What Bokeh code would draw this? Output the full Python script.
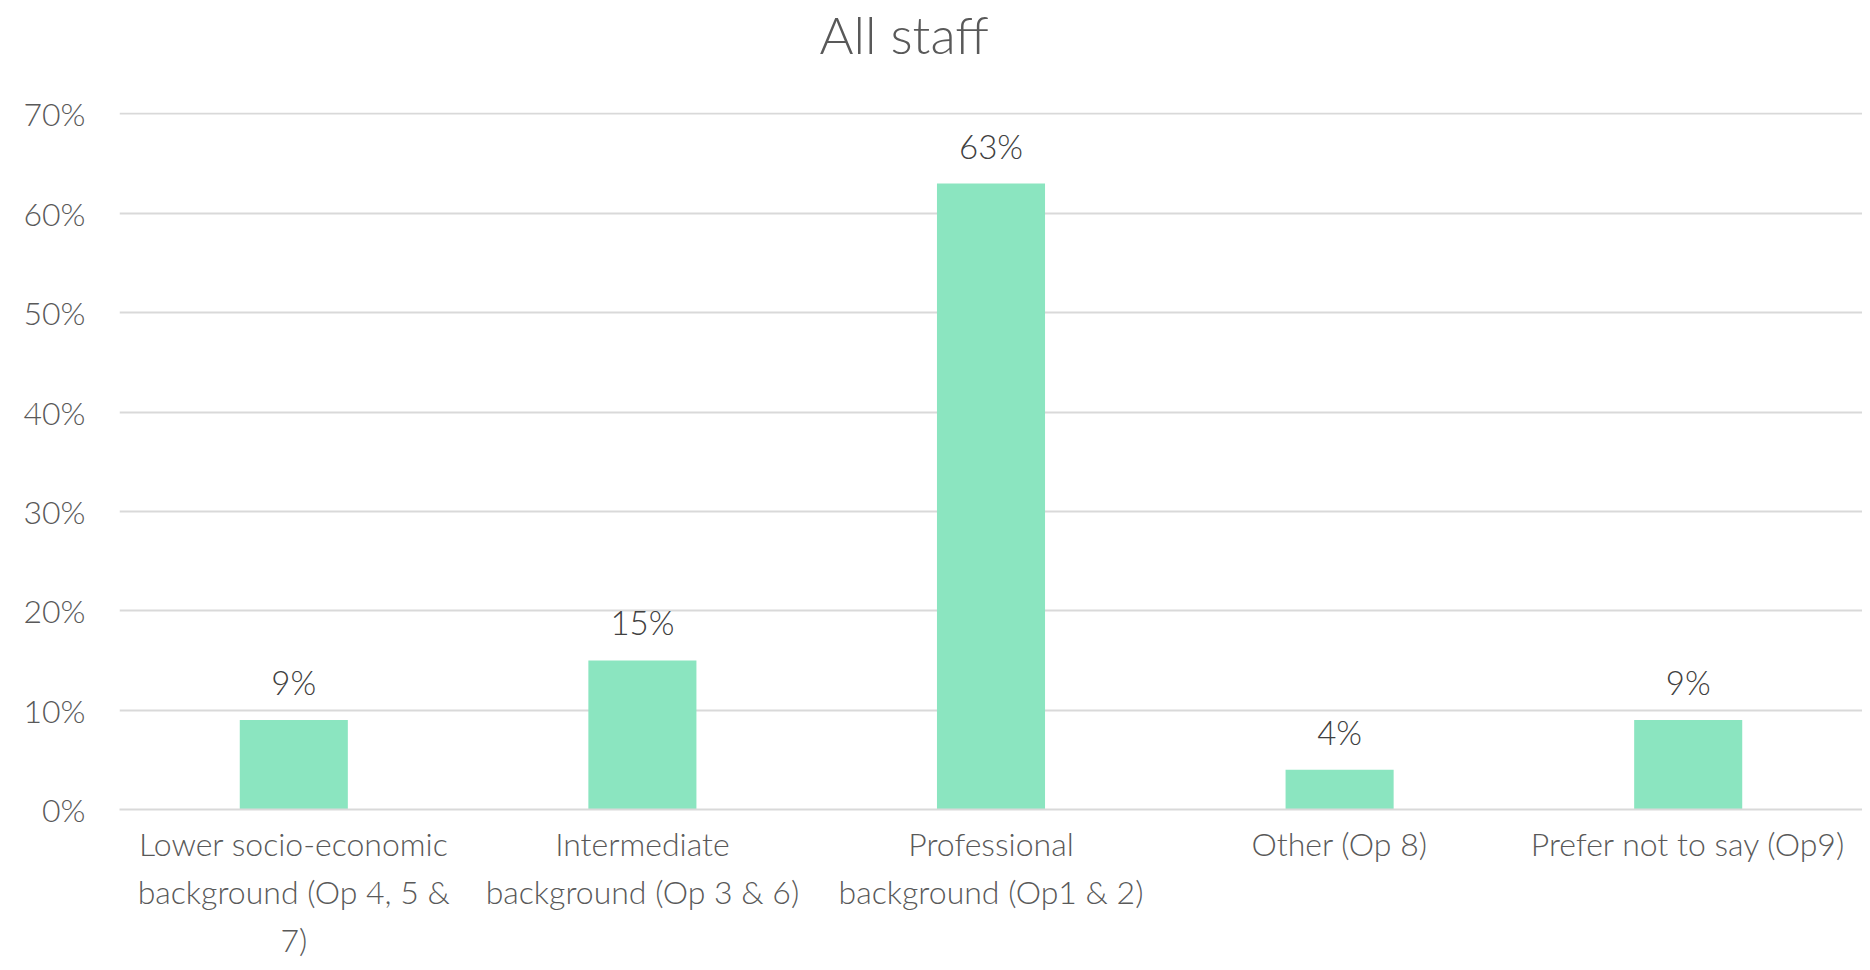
from bokeh.plotting import figure
from bokeh.models import FactorRange, Range1d, FixedTicker, ColumnDataSource, Title
from bokeh.core.properties import value
from bokeh.embed import file_html
from bokeh.resources import INLINE

categories = [
    "Lower socio-economic\nbackground (Op 4, 5 &\n7)",
    "Intermediate\nbackground (Op 3 & 6)",
    "Professional\nbackground (Op1 & 2)",
    "Other (Op 8)",
    "Prefer not to say (Op9)",
]
values = [9, 15, 63, 4, 9]
labels = ["9%", "15%", "63%", "4%", "9%"]
y_ticks = [0, 10, 20, 30, 40, 50, 60, 70]
y_tick_labels = ["0%", "10%", "20%", "30%", "40%", "50%", "60%", "70%"]
title_text = "All staff"

FONT = "Lato Light, Lato"
TEXT = "#595959"

src = ColumnDataSource(dict(cat=categories, val=values, lab=labels))

p = figure(
    x_range=FactorRange(*categories, range_padding=0),
    y_range=Range1d(0, 70.15),
    width=1862, height=962,
    output_backend="svg", toolbar_location=None,
    min_border_left=119, min_border_right=0,
    min_border_top=0, min_border_bottom=140,
    title=None,
)
p.outline_line_color = None
p.background_fill_color = "white"
p.border_fill_color = "white"

spacer = Title(text=" ", text_font_size="41px")
main_title = Title(text=title_text, align="left", offset=700, text_font=FONT,
                   text_font_style="normal", text_font_size="52px", text_color=TEXT)
if "standoff" in main_title.properties():
    main_title.standoff = 0
    spacer.standoff = 0
else:
    spacer.text_font_size = "25px"

# spacer (closest to the frame), then the real title further out
p.add_layout(spacer, "above")
p.add_layout(main_title, "above")

p.vbar(x="cat", top="val", width=0.31, source=src, fill_color="#8BE5C0", line_color=None)
p.text(x="cat", y="val", text="lab", source=src, text_align="center", text_baseline="bottom",
       y_offset=-18, text_font=value(FONT), text_font_size="33px", text_color="#404040")

p.yaxis.ticker = FixedTicker(ticks=y_ticks)
p.yaxis.major_label_overrides = {t: l for t, l in zip(y_ticks, y_tick_labels)}
p.yaxis.axis_line_color = None
p.yaxis.major_tick_line_color = None
p.yaxis.minor_tick_line_color = None
p.yaxis.major_label_standoff = 28
p.yaxis.major_label_text_font = FONT
p.yaxis.major_label_text_font_size = "32px"
p.yaxis.major_label_text_color = TEXT

p.xaxis.axis_line_color = "#D9D9D9"
p.xaxis.axis_line_width = 2
p.xaxis.major_tick_line_color = None
p.xaxis.minor_tick_line_color = None
p.xaxis.major_label_standoff = 8
p.xaxis.major_label_text_font = FONT
p.xaxis.major_label_text_font_size = "32px"
p.xaxis.major_label_text_color = TEXT
p.xaxis.major_label_text_line_height = 1.24

p.xgrid.grid_line_color = None
p.ygrid.grid_line_color = "#D9D9D9"
p.ygrid.grid_line_width = 2

open("out.html", "w").write(file_html(p, INLINE))
